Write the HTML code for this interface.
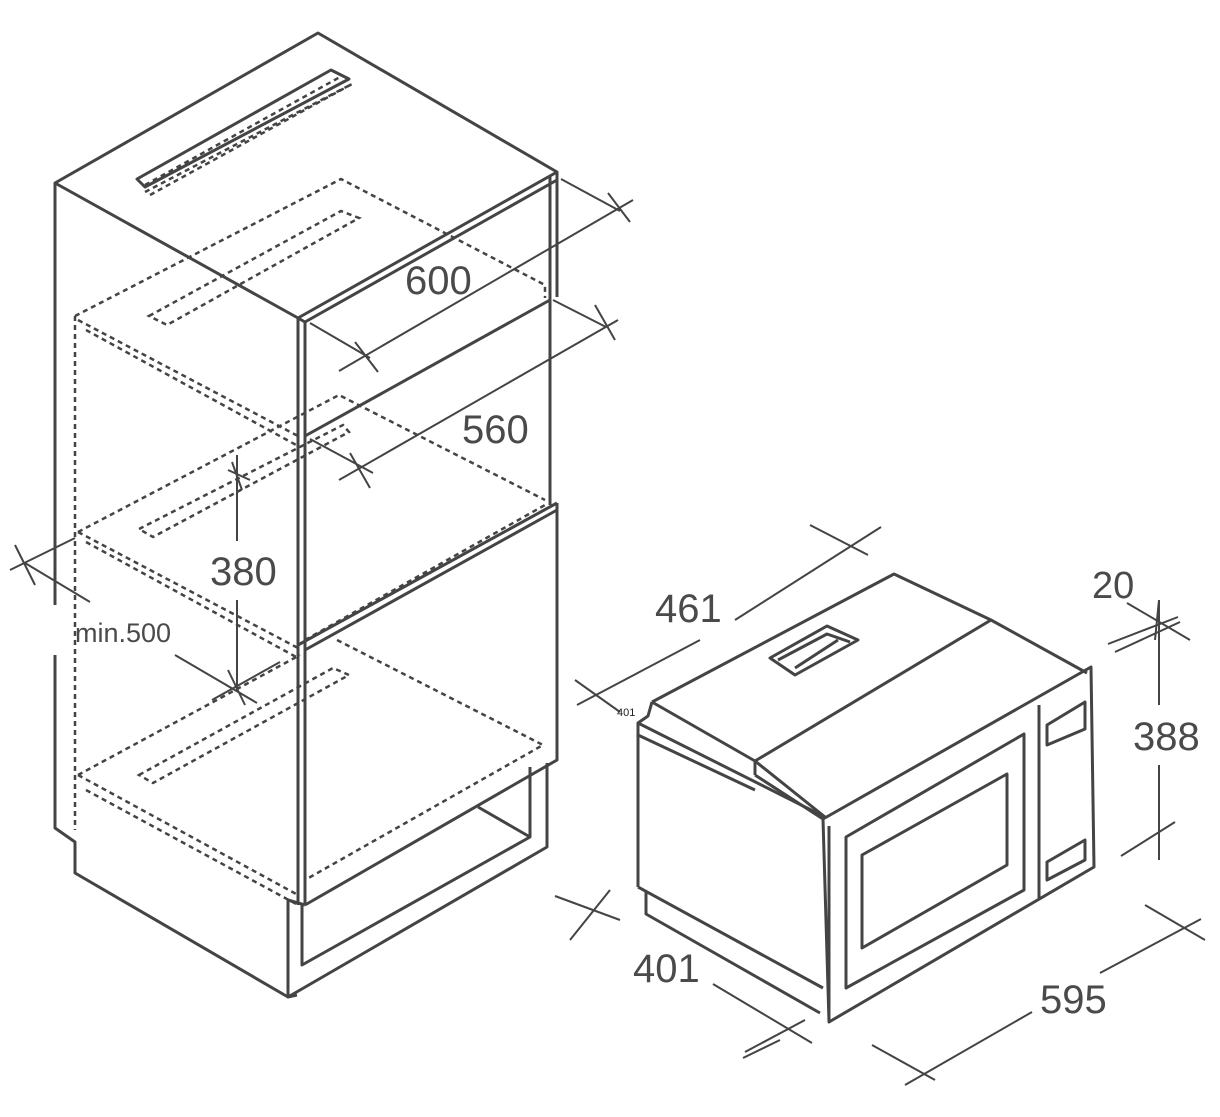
<!DOCTYPE html>
<html><head><meta charset="utf-8"><style>
html,body{margin:0;padding:0;background:#fff}
svg{display:block}
text{font-family:"Liberation Sans Narrow","Liberation Sans",sans-serif;fill:#4a4a4a}
</style></head><body>
<svg width="1220" height="1117" viewBox="0 0 1220 1117" xmlns="http://www.w3.org/2000/svg">
<g fill="none" stroke="#444" stroke-width="3" stroke-linejoin="round">
<!-- cabinet top -->
<path d="M55,183 L318,33 L557,172 L298,318 Z"/>
<path d="M298,318 L305,322 L557,180"/>
<!-- left side -->
<path d="M55,183 L55,605 M55,655 L55,828 L75,842 L75,873 L288,997"/>
<!-- front verticals -->
<path d="M298,318 L298,905 M305,322 L305,905"/>
<!-- upper right edge -->
<path d="M550,176 L550,297 M557,172 L557,297"/>
<path d="M305,436 L550,300"/>
<path d="M550,297 L550,505"/>
<!-- lower door -->
<path d="M298,645 L557,503 M305,650 L557,510 M557,503 L557,760 L305,905"/>
<!-- plinth -->
<path d="M288,900 L288,997 L547,847 L547,763 M288,900 L305,905 M302,905 L302,965 L530,837 L530,767 M530,837 L478,807 M288,997 L297,995"/>
<!-- top vent -->
<path d="M137,179 L331,70 L349,79 L145,187 Z"/>
</g>
<g fill="none" stroke="#444" stroke-width="2.5" stroke-dasharray="5,4">
<path d="M145,185 L340,77 M145,192 L350,85 M150,195 L352,84"/>
<!-- upper box -->
<path d="M75,316 L341,179 L545,285 L545,298"/>
<path d="M75,316 L75,830"/>
<path d="M78,320 L298,436 M86,330 L298,446"/>
<path d="M149,316 L341,211 L359,218 L167,325 Z"/>
<path d="M78,532 L339,395 L545,500"/>
<path d="M139,529 L343,425 L349,432 L153,537 Z"/>
<path d="M78,532 L298,648 M86,542 L298,658"/>
<path d="M305,640 L545,505"/>
<path d="M337,640 L543,745 L305,880"/>
<path d="M78,775 L300,655"/>
<path d="M139,775 L333,668 L349,675 L153,783 Z"/>
<path d="M78,775 L298,895 M86,790 L298,905"/>
</g>
<!-- cabinet dimension lines -->
<g fill="none" stroke="#444" stroke-width="2">
<path d="M310,323 L370,358 M339,371 L633,200 M561,179 L620,211 M355,342 L378,372 M608,193 L630,222"/>
<path d="M310,439 L373,473 M339,480 L618,320 M553,300 L606,327 M350,453 L370,488 M595,305 L615,340"/>
<path d="M237,455 L237,541 M237,600 L237,690 M228,470 L250,480 M232,462 L242,490"/>
<path d="M10,570 L75,538 M15,545 L35,585 M25,563 L90,602"/>
<path d="M175,655 L257,703 M212,700 L280,662 M228,670 L245,705"/>
</g>
<text x="405" y="294" font-size="40">600</text>
<text x="462" y="443" font-size="40">560</text>
<text x="210" y="585" font-size="40">380</text>
<text x="75" y="642" font-size="27">min.500</text>

<!-- microwave -->
<g fill="none" stroke="#444" stroke-width="3" stroke-linejoin="round">
<path d="M652,702 L894,574 L991,620 L1087,673"/>
<path d="M991,620 L755,761 L755,775 M755,761 L825,817"/>
<path d="M652,702 L648,716 L638,723 L825,817 M638,723 L638,887 M652,702 L755,761"/>
<path d="M638,735 L755,790 M755,775 L823,819"/>
<path d="M823,819 L1091,667 L1094,867 L829,1022 Z M829,826 L829,1022"/>
<path d="M846,837 L1024,734 L1024,890 L846,988 Z"/>
<path d="M862,855 L1007,774 L1007,865 L862,948 Z"/>
<path d="M1039,705 L1039,898"/>
<path d="M1047,725 L1085,702 L1085,729 L1047,745 Z"/>
<path d="M1047,862 L1085,840 L1085,860 L1047,880 Z"/>
<path d="M638,887 L823,988 M646,892 L646,914 L820,1013"/>
<path d="M770,658 L827,626 L858,640 L795,675 Z M778,660 L827,634 L850,642 M795,668 L838,640"/>
</g>
<g fill="none" stroke="#444" stroke-width="2">
<path d="M577,705 L700,640 M735,620 L881,527 M575,680 L620,712 M810,525 L868,555"/>
<path d="M555,896 L620,920 M570,940 L610,890 M713,984 L812,1043 M745,1052 L805,1020"/>
<path d="M743,1058 L780,1040 M872,1045 L935,1080 M1100,973 L1201,919 M1145,905 L1205,940 M905,1085 L1032,1012"/>
<path d="M1159,600 L1159,705 M1159,765 L1159,860 M1121,856 L1175,822 M1108,644 L1178,617 M1115,652 L1180,622 M1127,603 L1190,640 M1159,600 L1155,640"/>
</g>
<text x="655" y="622" font-size="40">461</text>
<text x="617" y="716" font-size="11" style="fill:#222">401</text>
<text x="633" y="982" font-size="40">401</text>
<text x="1040" y="1013" font-size="40">595</text>
<text x="1133" y="750" font-size="40">388</text>
<text x="1092" y="598" font-size="38">20</text>
</svg>
</body></html>
